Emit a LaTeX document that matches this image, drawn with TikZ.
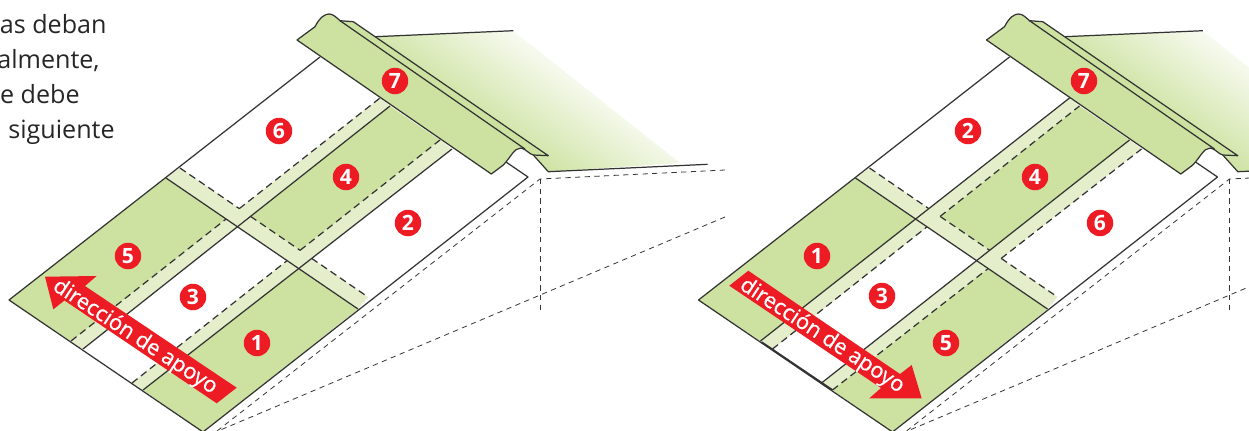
\documentclass[tikz,border=0pt]{standalone}
\usepackage{fontspec}
\setmainfont{Open Sans}
\newfontfamily\signfont[FakeBold=0.5]{Open Sans}
\usepackage{tikz}
\definecolor{roofgreen}{HTML}{CDE2A0}
\definecolor{lapgreen}{HTML}{E4EECB}
\definecolor{signred}{HTML}{ED1C24}
\definecolor{inkgrey}{HTML}{333333}
\pgfdeclareverticalshading{sheetfade}{100bp}{color(0bp)=(roofgreen); color(38bp)=(roofgreen); color(66bp)=(white); color(100bp)=(white)}
\begin{document}
\begin{tikzpicture}[x=0.02cm,y=-0.02cm,line join=round]
\tikzstyle{edge}=[draw=inkgrey,line width=0.7pt]
\tikzstyle{lapdash}=[draw=inkgrey,line width=0.7pt,dash pattern=on 4pt off 2.5pt]
\tikzstyle{hidden}=[draw=inkgrey,line width=0.45pt,dash pattern=on 3pt off 2.5pt]
\tikzstyle{badge}=[circle,fill=signred,text=white,inner sep=0pt,minimum size=0.53cm,font=\fontsize{12}{12}\selectfont\bfseries]
\tikzstyle{pagetext}=[anchor=base east,inner sep=0pt,text=black!85,font=\fontsize{14.3}{14.3}\selectfont]
\tikzstyle{arrowtext}=[rotate=-33.2,text=white,inner sep=0pt,font=\fontsize{12.4}{12.4}\selectfont\signfont]
\clip (0,0) rectangle (1249,430);
\useasboundingbox (0,0) rectangle (1249,430);
% panel colours and laps
\foreach \sx in {0,689.5}{
  \begin{scope}[shift={(\sx,0)}]
    \fill[roofgreen] (9,300) -- (83,349) -- (237.5,226.8) -- (166,178) -- cycle;
    \fill[roofgreen] (143,390) -- (298.7,268.5) -- (358,309) -- (203,432) -- cycle;
    \fill[roofgreen] (250.6,216.4) -- (390,106) -- (440,140) -- (300.1,250.3) -- cycle;
    \fill[lapgreen] (71,341) -- (83,349) -- (390,106) -- (380,98) -- cycle;
    \fill[lapgreen] (132,383) -- (143,390) -- (452,149) -- (440,140) -- cycle;
    \fill[lapgreen] (166,178) -- (180,168) -- (368,297) -- (358,309) -- cycle;
  \end{scope}
}
% laps, first picture
\draw[lapdash] (71,341) -- (226.1,219);
\draw[lapdash] (239.3,208.6) -- (380,98);
\draw[edge] (83,349) -- (390,106);
\draw[lapdash] (132,383) -- (287.1,260.6);
\draw[lapdash] (300.1,250.3) -- (440,140);
\draw[edge] (143,390) -- (452,149);
% laps, second picture
\begin{scope}[shift={(689.5,0)}]
  \draw[edge] (71,341) -- (380,98);
  \draw[lapdash] (83,349) -- (237.5,226.8);
  \draw[lapdash] (250.6,216.4) -- (390,106);
  \draw[edge] (132,383) -- (440,140);
  \draw[lapdash] (143,390) -- (298.7,268.5);
  \draw[lapdash] (311.7,258.4) -- (452,149);
  \draw[inkgrey,line width=0.95pt] (72,342) -- (143,390);
\end{scope}
% roof outline, ridge and hidden lines
\foreach \sx in {0,689.5}{
  \begin{scope}[shift={(\sx,0)}]
    \draw[edge] (320,57) -- (9,300) -- (203,432) -- (528,177) -- (506,162);
    \draw[edge] (166,178) -- (358,309);
    \draw[lapdash] (180,168) -- (239.3,208.6);
    \draw[lapdash] (250.6,216.4) -- (300.1,250.3);
    \draw[lapdash] (311.7,258.4) -- (368,297);
    \draw[hidden] (725,170) -- (540,179) -- (217,431);
    \draw[hidden] (540,179) -- (540,311);
    \draw[hidden] (725,217) -- (218,431);
    \shade[shading=sheetfade,shading angle=-35] (375,36.7) -- (513.3,30.7) -- (680,163) -- (548.3,171.7) -- (533.3,155) -- cycle;
    \draw[edge] (375,36.7) -- (513.3,30.7);
    \draw[edge] (533.3,155) -- (548.3,171.7) -- (707.7,164.3);
    \draw[edge,fill=roofgreen] (297,40) -- (315,26.7) .. controls (320,17) and (325,14) .. (329,14) .. controls (333,14) and (336,17) .. (340,20.7) -- (353.3,21.7) -- (548.3,155.7) -- (533.3,155) .. controls (529,154) and (526,149) .. (521,148) .. controls (514,148) and (511,157) .. (503.3,165) -- (491.3,174) -- cycle;
    \draw[edge] (340,20.7) -- (525,149);
  \end{scope}
}
% direction arrows
\fill[signred] (45,276.7) -- (96.7,276) -- (85,286) -- (236.7,387.7) -- (216.7,403.3) -- (64.5,300.5) -- (53.3,309.3) -- cycle;
\fill[signred] (748.3,270.7) -- (729.3,285.7) -- (881,388) -- (869.3,398.3) -- (921.7,398.3) -- (911.7,365) -- (900,374) -- cycle;
\node[arrowtext] (leftlabel) at (135,337) {dirección de apoyo};
\node[arrowtext] (rightlabel) at (822,336) {dirección de apoyo};
% numbers
\foreach \nm/\x/\y in {6/279/131,4/346/177,2/408/223,7/395/81,5/128/256,3/193/297,1/257/343}{
  \node[badge] (la\nm) at (\x,\y) {\nm};
}
\foreach \nm/\x/\y in {2/968/131,4/1035/177,6/1100/223,7/1084/81,1/817/256,3/882/296,5/946/343}{
  \node[badge] (ra\nm) at (\x,\y) {\nm};
}
% cut off page text
\node[pagetext] (line1) at (107,33) {as deban};
\node[pagetext] (line2) at (100,68) {almente,};
\node[pagetext] (line3) at (80,103) {e debe};
\node[pagetext] (line4) at (115,138) {siguiente};
\end{tikzpicture}
\end{document}
